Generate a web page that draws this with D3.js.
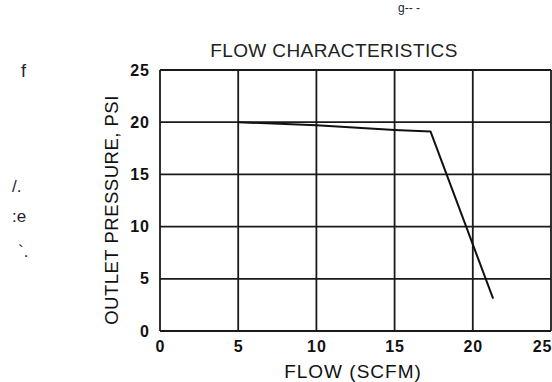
<!DOCTYPE html>
<html>
<head>
<meta charset="utf-8">
<script src="https://cdn.jsdelivr.net/npm/d3@7"></script>
<style>
  html, body { margin: 0; padding: 0; background: #fff; }
  svg { display: block; font-family: "Liberation Sans", Arial, Helvetica, sans-serif; }
</style>
</head>
<body>
<svg id="chart" width="552" height="382"></svg>
<script>
// ---- data ----
const flowSCFM = [5, 10, 15, 17.3, 21.3];
const outletPSI = [20, 19.7, 19.25, 19.1, 3.1];
const xTicks = [0, 5, 10, 15, 20, 25];
const yTicks = [0, 5, 10, 15, 20, 25];
const title = "FLOW CHARACTERISTICS";
const xLabel = "FLOW (SCFM)";
const yLabel = "OUTLET PRESSURE, PSI";
const fragments = [
  {t: "f", x: 21, y: 77, s: 18},
  {t: "/.", x: 12, y: 192, s: 17},
  {t: ":e", x: 12, y: 222, s: 17},
  {t: "`.", x: 18, y: 257, s: 17},
  {t: "g-- -", x: 398, y: 12, s: 12}
];

const W = 552, H = 382;
const margin = {left: 160, right: 1, top: 70, bottom: 51};
const svg = d3.select("#chart");

const x = d3.scaleLinear().domain([0, 25]).range([margin.left, W - margin.right]);
const y = d3.scaleLinear().domain([0, 25]).range([H - margin.bottom, margin.top]);

// grid
const g = svg.append("g");
g.selectAll("line.vx").data(xTicks).join("line")
  .attr("x1", d => x(d)).attr("x2", d => x(d))
  .attr("y1", y(0)).attr("y2", y(25))
  .attr("stroke", "#1a1a1a").attr("stroke-width", 1.8);
g.selectAll("line.hy").data(yTicks).join("line")
  .attr("y1", d => y(d)).attr("y2", d => y(d))
  .attr("x1", x(0)).attr("x2", x(25))
  .attr("stroke", "#1a1a1a").attr("stroke-width", 1.8);

// axes (labels only)
const xAxis = d3.axisBottom(x).tickValues(xTicks).tickSize(0).tickPadding(10);
const xg = svg.append("g").attr("transform", `translate(0,${y(0)})`).call(xAxis);
xg.select(".domain").remove();
xg.selectAll("text").attr("font-size", 16).attr("font-weight", "bold")
  .attr("fill", "#111").attr("letter-spacing", "1px")
  .attr("font-family", "Liberation Sans, Arial, sans-serif");
xg.selectAll(".tick").filter(d => d === 25).select("text")
  .attr("text-anchor", "end").attr("x", 1);

const yAxis = d3.axisLeft(y).tickValues(yTicks).tickSize(0).tickPadding(10);
const yg = svg.append("g").attr("transform", `translate(${x(0)},0)`).call(yAxis);
yg.select(".domain").remove();
yg.selectAll("text").attr("font-size", 16).attr("font-weight", "bold")
  .attr("fill", "#111").attr("letter-spacing", "1px")
  .attr("font-family", "Liberation Sans, Arial, sans-serif");

// data line
const pts = flowSCFM.map((f, i) => [f, outletPSI[i]]);
svg.append("path").datum(pts)
  .attr("fill", "none").attr("stroke", "#111").attr("stroke-width", 2)
  .attr("stroke-linejoin", "round")
  .attr("d", d3.line().x(d => x(d[0])).y(d => y(d[1])));

// titles
svg.append("text").attr("x", 334).attr("y", 57).attr("text-anchor", "middle")
  .attr("font-size", 19).attr("letter-spacing", "0.4px").attr("fill", "#222").text(title);
svg.append("text").attr("x", 353).attr("y", 378).attr("text-anchor", "middle")
  .attr("font-size", 19).attr("letter-spacing", "1px").attr("fill", "#111").text(xLabel);
svg.append("text").attr("transform", "translate(118,210) rotate(-90)").attr("text-anchor", "middle")
  .attr("font-size", 18.5).attr("letter-spacing", "0.5px").attr("fill", "#111").text(yLabel);

// scan fragments
svg.selectAll("text.frag").data(fragments).join("text")
  .attr("class", "frag").attr("x", d => d.x).attr("y", d => d.y)
  .attr("font-size", d => d.s).attr("fill", "#223").text(d => d.t);
</script>
</body>
</html>
